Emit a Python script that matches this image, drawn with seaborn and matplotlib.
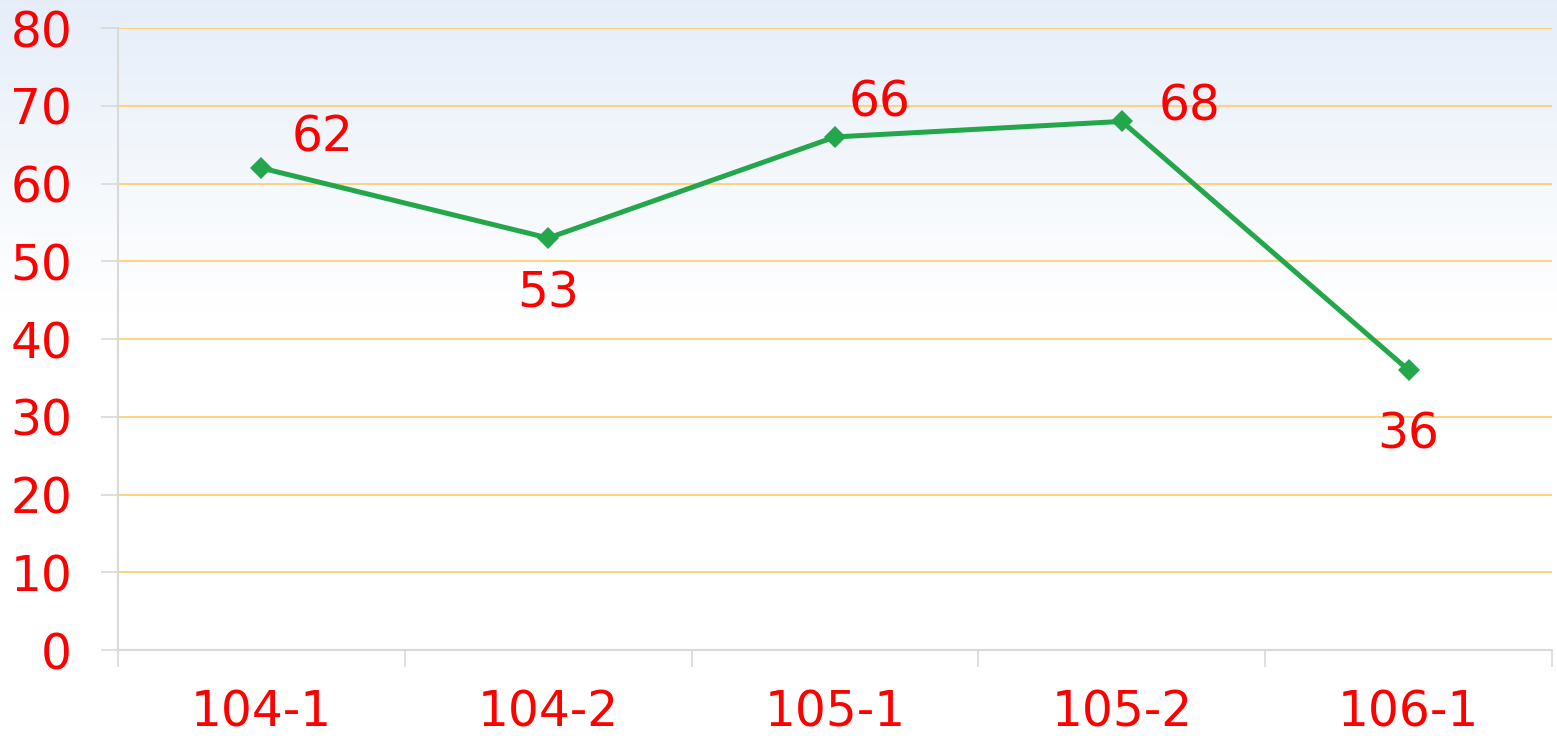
import numpy as np
import matplotlib.pyplot as plt
import seaborn as sns
import pandas as pd

# semester labels and values
terms = ['104-1', '104-2', '105-1', '105-2', '106-1']
values = [62, 53, 66, 68, 36]
# label offsets (in points) so the numbers sit like in the original
label_dx = [44, 0, 32, 49, 0]
label_dy = [22, -40, 25, 11, -46]

df = pd.DataFrame({'term': terms, 'value': values, 'pos': range(len(terms))})

sns.set_style('white')
plt.rcParams['font.family'] = ['DejaVu Sans']
plt.rcParams['xtick.bottom'] = True
plt.rcParams['ytick.left'] = True

fig = plt.figure(figsize=(15.57, 7.36), dpi=100)

# soft blue-to-white gradient behind everything
bg = fig.add_axes([0, 0, 1, 1], zorder=-1)
grad = np.linspace(0, 1, 300)
grad = np.clip(grad / 0.42, 0, 1)[:, None]
top = np.array([0.902, 0.933, 0.976])
img = top[None, None, :] * (1 - grad[:, :, None]) + np.ones(3)[None, None, :] * grad[:, :, None]
bg.imshow(img, aspect='auto', extent=[0, 1, 0, 1], origin='upper')
bg.axis('off')

ax = fig.add_axes([0.0758, 0.1168, 0.921, 0.845])
ax.patch.set_alpha(0)

sns.lineplot(data=df, x='pos', y='value', ax=ax, color='#24A64B', linewidth=3.6,
             marker='D', markersize=11, markeredgewidth=0)

for x, y, dx, dy in zip(df['pos'], df['value'], label_dx, label_dy):
    ax.annotate(str(y), (x, y), xytext=(dx, dy), textcoords='offset points',
                ha='center', va='center', color='red', fontsize=35)

ax.set_ylim(0, 80)
ax.set_xlim(-0.5, len(terms) - 0.5)
ax.set_yticks(range(0, 81, 10))
ax.yaxis.grid(True, color='#FFCC66', linewidth=1.2)
ax.set_axisbelow(True)

ax.set_xticks(df['pos'])
ax.set_xticklabels(terms)
ax.set_xticks(np.arange(-0.5, len(terms), 1), minor=True)
ax.tick_params(axis='x', which='major', length=0, pad=28, labelsize=35, labelcolor='red')
ax.tick_params(axis='x', which='minor', length=12, width=1.2, color='#D9D9D9', direction='out')
ax.tick_params(axis='y', length=12, width=1.2, color='#D9D9D9', labelsize=35,
               labelcolor='red', pad=21, direction='out')

for side in ['top', 'right']:
    ax.spines[side].set_visible(False)
for side in ['left', 'bottom']:
    ax.spines[side].set_color('#D9D9D9')
    ax.spines[side].set_linewidth(1.5)

ax.set_xlabel('')
ax.set_ylabel('')

fig.savefig('out.png', dpi=100)
